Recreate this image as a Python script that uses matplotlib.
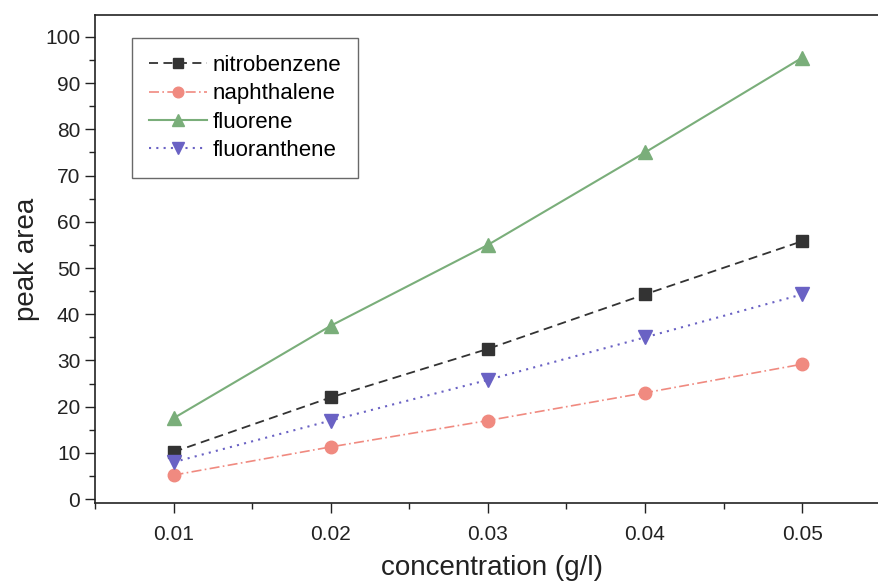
import matplotlib
matplotlib.use("Agg")
import matplotlib.pyplot as plt
from matplotlib.ticker import MultipleLocator

plt.rcParams['font.family'] = ['Liberation Sans', 'DejaVu Sans']

conc = [0.01, 0.02, 0.03, 0.04, 0.05]
nitrobenzene = [10.2, 22.0, 32.5, 44.3, 55.8]
naphthalene = [5.2, 11.3, 17.0, 23.0, 29.2]
fluorene = [17.5, 37.5, 55.0, 75.0, 95.5]
fluoranthene = [8.0, 17.0, 25.8, 35.0, 44.3]

fig = plt.figure(figsize=(8.79, 5.82), dpi=100)
ax = fig.add_axes([0.108, 0.136, 0.903, 0.838])

ax.plot(conc, nitrobenzene, color='#333333', ls=(0, (5, 3)), lw=1.3,
        marker='s', ms=8, label='nitrobenzene')
ax.plot(conc, naphthalene, color='#f08a80', ls=(0, (6, 2, 1, 2)), lw=1.2,
        marker='o', ms=9, label='naphthalene')
ax.plot(conc, fluorene, color='#7aae7a', ls='-', lw=1.5,
        marker='^', ms=10, label='fluorene')
ax.plot(conc, fluoranthene, color='#6a62c4', ls=(0, (1, 2.5)), lw=1.5,
        marker='v', ms=10, label='fluoranthene')

ax.set_xlim(0.005, 0.0555)
ax.set_ylim(-0.8, 104.7)
ax.set_xticks(conc)
ax.set_xticklabels(['0.01', '0.02', '0.03', '0.04', '0.05'])
ax.xaxis.set_minor_locator(MultipleLocator(0.005))
ax.yaxis.set_minor_locator(MultipleLocator(5))
ax.set_yticks(range(0, 101, 10))
ax.tick_params(which='major', direction='out', length=7, width=1, labelsize=15, colors='#222222')
ax.tick_params(which='minor', direction='out', length=4, width=1, colors='#222222')
ax.tick_params(axis='x', pad=9)
for s in ax.spines.values():
    s.set_color('#222222')
    s.set_linewidth(1.2)

ax.set_xlabel('concentration (g/l)', fontsize=20, color='#222222', labelpad=8)
ax.set_ylabel('peak area', fontsize=20, color='#222222', labelpad=4)

leg = ax.legend(loc='upper left', bbox_to_anchor=(0.033, 0.975), fontsize=16,
                frameon=True, fancybox=False, edgecolor='#444444',
                handlelength=2.6, handletextpad=0.25, labelspacing=0.33,
                borderpad=0.75, markerscale=0.85)
leg.get_frame().set_linewidth(1.0)

fig.savefig('out.png', dpi=100)
